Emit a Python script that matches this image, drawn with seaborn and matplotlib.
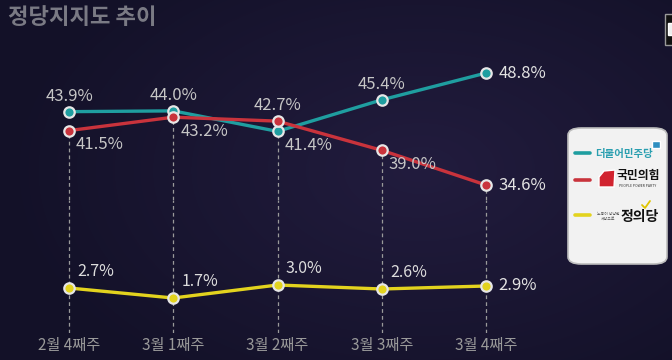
import matplotlib
matplotlib.use('Agg')
import matplotlib.pyplot as plt
import seaborn as sns
import pandas as pd
import numpy as np
from matplotlib.patches import FancyBboxPatch, Polygon, Rectangle
from matplotlib.lines import Line2D

weeks = ['2월 4째주', '3월 1째주', '3월 2째주', '3월 3째주', '3월 4째주']
minju = [43.9, 44.0, 41.4, 45.4, 48.8]
gukhim = [41.5, 43.2, 42.7, 39.0, 34.6]
jeongui = [2.7, 1.7, 3.0, 2.6, 2.9]

party_names = ['더불어민주당', '국민의힘', '정의당']
party_colors = ['#1f9ea0', '#c9333c', '#e3d31e']

BG = '#19152f'

sns.set_theme(style='dark', rc={'axes.facecolor': 'none', 'figure.facecolor': BG})
plt.rcParams['font.family'] = ['Noto Sans CJK KR', 'DejaVu Sans']

top_df = pd.DataFrame({'week': weeks * 2,
                       'value': minju + gukhim,
                       'party': [party_names[0]] * 5 + [party_names[1]] * 5})
bot_df = pd.DataFrame({'week': weeks, 'value': jeongui, 'party': party_names[2]})

fig = plt.figure(figsize=(6.72, 3.6), dpi=100)
fig.patch.set_facecolor(BG)

# subtle background glow
yy, xx = np.mgrid[0:360, 0:672]
d = np.sqrt(((xx - 420) / 420.0) ** 2 + ((yy - 170) / 260.0) ** 2)
glow = np.clip(1 - d, 0, 1)[..., None]
edge = np.array([0x13, 0x11, 0x28]) / 255
mid = np.array([0x22, 0x1c, 0x3e]) / 255
img = edge + (mid - edge) * glow
fig.figimage(img, 0, 0, zorder=-10, origin='upper')

# axes covering full width; categorical x -> 0..4
xl = (-69 / 104.25, (672 - 69) / 104.25)
ax_top = fig.add_axes([0, 1 - 200 / 360, 1, 140 / 360])
ax_bot = fig.add_axes([0, 27 / 360, 1, 133 / 360])

line_kw = dict(marker='o', markersize=7.5, markeredgecolor='#e6e6e6',
               markeredgewidth=1.6, linewidth=2.4, legend=False, sort=False)

sns.lineplot(data=top_df, x='week', y='value', hue='party',
             palette=party_colors[:2], ax=ax_top, zorder=3, **line_kw)
sns.lineplot(data=bot_df, x='week', y='value', hue='party',
             palette=party_colors[2:], ax=ax_bot, zorder=3, **line_kw)

ax_top.set_ylim(32.7, 50.45)
ax_bot.set_ylim(-1.8, 11.5)
for ax in (ax_top, ax_bot):
    ax.set_xlim(*xl)
    ax.set_ylabel('')
    ax.set_xlabel('')
    ax.set_yticks([])
    ax.grid(False)
    ax.patch.set_alpha(0)
    for s in ax.spines.values():
        s.set_visible(False)
ax_top.set_xticks([])
ax_bot.set_xticks(range(len(weeks)))
ax_bot.set_xticklabels(weeks, color='#9a9a9a', fontsize=11)
ax_bot.tick_params(axis='x', length=0, pad=3)

# dashed guide lines
xs = range(len(weeks))
lows = [min(a, b) for a, b in zip(minju, gukhim)]
ax_top.vlines(xs, 32.7, lows, colors='#9a9a9a', linestyles=(0, (3, 2.5)), linewidth=0.9, zorder=1)
ax_bot.vlines(xs, -1.8, 11.5, colors='#9a9a9a', linestyles=(0, (3, 2.5)), linewidth=0.9, zorder=1)

lab = dict(fontsize=12, color='#c6c6c6', zorder=5)
# top series labels
for i in range(4):
    hi_above = minju[i] >= gukhim[i]
    above_v, below_v = (minju[i], gukhim[i]) if hi_above else (gukhim[i], minju[i])
    ax_top.annotate(f'{above_v:.1f}%', (i, above_v), xytext=(0, 5), textcoords='offset points',
                    ha='center', va='bottom', **lab)
    ax_top.annotate(f'{below_v:.1f}%', (i, below_v), xytext=(5, -4), textcoords='offset points',
                    ha='left', va='top', **lab)
ax_top.annotate(f'{minju[4]:.1f}%', (4, minju[4]), xytext=(9, 0), textcoords='offset points',
                ha='left', va='center', fontsize=12, color='#e2e2e2', zorder=5)
ax_top.annotate(f'{gukhim[4]:.1f}%', (4, gukhim[4]), xytext=(9, 0), textcoords='offset points',
                ha='left', va='center', fontsize=12, color='#e2e2e2', zorder=5)
for i in range(4):
    ax_bot.annotate(f'{jeongui[i]:.1f}%', (i, jeongui[i]), xytext=(6, 6), textcoords='offset points',
                    ha='left', va='bottom', fontsize=11.5, color='#dcdcdc', zorder=5)
ax_bot.annotate(f'{jeongui[4]:.1f}%', (4, jeongui[4]), xytext=(9, 0), textcoords='offset points',
                ha='left', va='center', fontsize=12, color='#e2e2e2', zorder=5)

# title
fig.text(8 / 672, 1 - 18 / 360, '정당지지도 추이', fontsize=16, fontweight='bold',
         color='#7a7a84', ha='left', va='center')


# legend card
def px(x, y):
    return x / 672, 1 - y / 360


box = FancyBboxPatch(px(568, 264), 99 / 672, 136 / 360, transform=fig.transFigure,
                     boxstyle='round,pad=0,rounding_size=0.02', facecolor='#f2f2f2',
                     edgecolor='#bdbdbd', linewidth=1.2, zorder=10)
fig.add_artist(box)
for yy_, c in zip([153, 180, 215], party_colors):
    fig.add_artist(Line2D([575 / 672, 590 / 672], [1 - yy_ / 360] * 2, color=c,
                          linewidth=2.6, transform=fig.transFigure, zorder=11))
fig.text(*px(624, 154), party_names[0], fontsize=7.5, fontweight='bold', color='#2a9fb0',
         ha='center', va='center', zorder=11)
fig.add_artist(Rectangle(px(652, 148), 8 / 672, 7 / 360, transform=fig.transFigure,
                         facecolor='#2f8fc0', zorder=11))
fig.add_artist(Polygon([px(604, 171), px(615, 170), px(614, 187), px(599, 187), px(599, 177)],
                       closed=True, transform=fig.transFigure, facecolor='#d1232f', zorder=11))
fig.text(*px(638, 175), party_names[1], fontsize=8.5, fontweight='bold', color='#111111',
         ha='center', va='center', zorder=11)
fig.text(*px(638, 186), 'PEOPLE POWER PARTY', fontsize=2.5, color='#333333',
         ha='center', va='center', zorder=11)
fig.text(*px(608, 216), '노동이 당당한\n세상으로', fontsize=2.8, color='#555555',
         ha='center', va='center', zorder=11, linespacing=1.2)
fig.text(*px(640, 217), party_names[2], fontsize=10, fontweight='bold', color='#111111',
         ha='center', va='center', zorder=11)
fig.add_artist(Line2D([642 / 672, 645 / 672, 650 / 672], [1 - 205 / 360, 1 - 208 / 360, 1 - 201 / 360],
                      color='#e0c400', linewidth=1.3, transform=fig.transFigure, zorder=12))

# cut-off element at top-right edge
fig.add_artist(Rectangle(px(665, 45), 10 / 672, 31 / 360, transform=fig.transFigure,
                         facecolor='#101010', edgecolor='#9a9a9a', linewidth=1, zorder=10))
fig.add_artist(Rectangle(px(668, 35), 6 / 672, 12 / 360, transform=fig.transFigure,
                         facecolor='#eeeeee', zorder=11))

fig.savefig('out.png', dpi=100, facecolor=BG)
